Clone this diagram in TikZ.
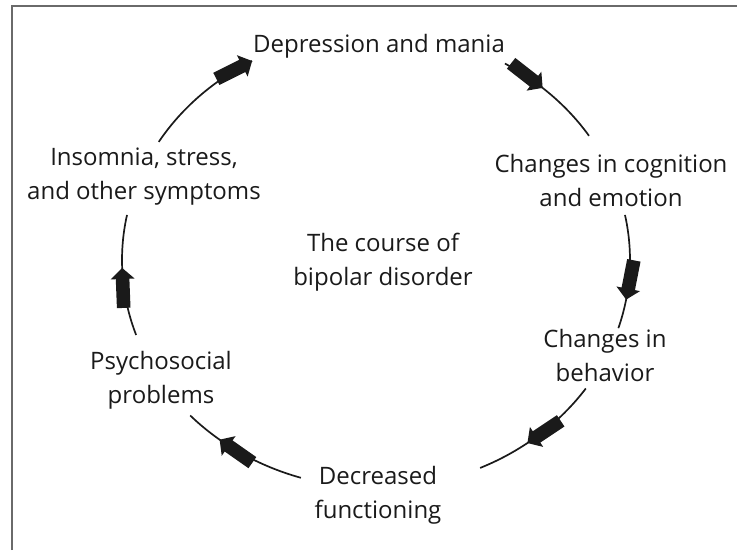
\documentclass[tikz,border=0pt]{standalone}
\usepackage{fontspec}
\setmainfont{Open Sans}
\definecolor{ink}{HTML}{1A1A1A}
\definecolor{framecol}{HTML}{6A6A6A}
\begin{document}
\begin{tikzpicture}[x=1pt,y=1pt,
  lbl/.style={font=\fontsize{24}{34}\selectfont, text=ink, align=center, inner sep=0pt, anchor=base},
  cyc/.style={draw=ink, line width=1.7pt},
  arrowfill/.style={fill=ink}]
\useasboundingbox (0,0) rectangle (737,550);
% frame
\draw[framecol, line width=2pt] (12,0) -- (12,544) -- (737,544);
\coordinate (C) at (376,290);
% labels (anchor base = baseline of the last line)
\node[lbl] (dep) at (379,497) {Depression and mania};
\node[lbl] (cog) at (611,343) {Changes in cognition\\and emotion};
\node[lbl] (beh) at (605,169) {Changes in\\behavior};
\node[lbl] (dec) at (378,32) {Decreased\\functioning};
\node[lbl] (psy) at (161,147) {Psychosocial\\problems};
\node[lbl] (ins) at (144,350) {Insomnia, stress,\\and other symptoms};
\node[lbl] (mid) at (383,265) {The course of\\bipolar disorder};
% cycle arcs
\begin{scope}[shift={(C)}]
\draw[cyc] (148.8:254 and 228) arc[start angle=148.8, end angle=119.2, x radius=254, y radius=228];
\draw[cyc] (59.5:254 and 228) arc[start angle=59.5, end angle=33, x radius=254, y radius=228];
\draw[cyc] (11.4:254 and 228) arc[start angle=11.4, end angle=-17.4, x radius=254, y radius=228];
\draw[cyc] (-34.3:254 and 228) arc[start angle=-34.3, end angle=-65.8, x radius=254, y radius=228];
\draw[cyc] (-107.2:254 and 228) arc[start angle=-107.2, end angle=-137, x radius=254, y radius=228];
\draw[cyc] (199.2:254 and 228) arc[start angle=199.2, end angle=168.6, x radius=254, y radius=228];
\foreach \t in {119.2, 49, -10, -53.4, -128, 182} {
  \pgfmathsetmacro\ang{atan2(-228*cos(\t), 254*sin(\t))}
  \fill[arrowfill, shift={({254*cos(\t)},{228*sin(\t)})}, rotate=\ang]
    (0,0) -- (-11,12) -- (-11,6.8) -- (-40,6.8) -- (-40,-6.8) -- (-11,-6.8) -- (-11,-12) -- cycle;
}
\end{scope}
\end{tikzpicture}
\end{document}
